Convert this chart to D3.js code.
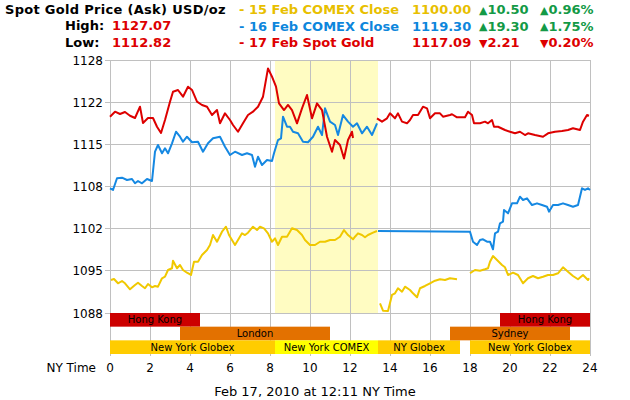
<!DOCTYPE html>
<html>
<head>
<meta charset="utf-8">
<script src="https://cdn.jsdelivr.net/npm/d3@7"></script>
<style>
  body { margin: 0; background: #fff; }
  svg { display: block; font-family: "DejaVu Sans", Verdana, sans-serif; }
</style>
</head>
<body>
<div id="chart"></div>
<script>
// hour of NY day, price in USD/oz (null = gap in the feed)
var spotGold = [
  [0,1119.44],[0.25,1120.23],[0.5,1119.86],[0.75,1120.18],[1,1119.59],[1.25,1119.23],[1.5,1121.02],
  [1.65,1118.44],[1.9,1119.23],[2.15,1119.23],[2.35,1117.85],[2.55,1116.86],[2.75,1118.91],[3,1121.81],
  [3.15,1123.39],[3.4,1123.66],[3.65,1122.6],[3.9,1124.18],[4.1,1123.66],[4.35,1121.81],[4.6,1121.29],
  [4.85,1121.02],[5.1,1119.7],[5.35,1120.49],[5.5,1118.39],[5.75,1119.97],[6,1118.91],[6.15,1118.12],
  [6.4,1117.06],[6.65,1118.39],[6.9,1119.7],[7.15,1120.23],[7.4,1121.02],[7.65,1122.6],[7.9,1127.07],
  [8.1,1125.76],[8.3,1124.18],[8.45,1121.55],[8.7,1120.49],[8.9,1121.29],[9.1,1120.49],[9.35,1118.39],
  [9.6,1120.76],[9.85,1122.87],[10.1,1119.18],[10.35,1121.55],[10.6,1120.49],[10.85,1116.27],[11.1,1113.9],
  [11.25,1115.75],[11.5,1114.96],[11.7,1112.82],[11.9,1115.75],[12.1,1117.06],[12.15,1116.07],
  null,
  [13.35,1119.18],[13.6,1118.65],[13.85,1119.18],[14,1119.97],[14.25,1119.18],[14.4,1119.97],[14.6,1118.65],
  [14.85,1118.39],[15,1118.91],[15.15,1119.7],[15.4,1119.7],[15.65,1121.02],[15.85,1120.76],[16,1119.18],
  [16.25,1119.97],[16.5,1119.97],[16.65,1119.44],[17,1119.7],[17.1,1119.82],[17.35,1119.34],[17.75,1119.34],
  [17.9,1120.23],[18.1,1119.7],[18.2,1118.39],[18.5,1118.39],[18.75,1118.65],[18.9,1118.39],[19.1,1118.91],
  [19.2,1117.85],[19.4,1117.85],[19.75,1117.33],[20,1117.06],[20.25,1116.81],[20.5,1117.06],[20.75,1116.54],
  [20.9,1116.81],[21.25,1116.54],[21.65,1116.27],[21.9,1116.81],[22.25,1117.06],[22.6,1117.17],[22.9,1117.33],
  [23.15,1117.6],[23.5,1117.33],[23.65,1118.65],[23.85,1119.7],[23.95,1119.59]
];

var comexFeb16 = [
  [0,1108.12],[0.15,1107.85],[0.35,1109.7],[0.6,1109.79],[0.85,1109.43],[1.1,1109.59],[1.25,1108.91],
  [1.4,1109.27],[1.6,1108.91],[1.85,1109.59],[2.1,1109.27],[2.25,1113.9],[2.4,1114.96],[2.6,1113.65],
  [2.75,1114.44],[2.9,1113.65],[3.1,1115.23],[3.3,1117.06],[3.5,1116.27],[3.65,1115.48],[3.85,1116.27],
  [4.1,1115.39],[4.4,1115.48],[4.65,1113.9],[4.9,1115.23],[5.15,1116.02],[5.5,1116.27],[5.75,1114.69],
  [6,1113.38],[6.25,1113.9],[6.6,1113.38],[6.85,1113.65],[7.1,1113.38],[7.25,1111.53],[7.4,1113.11],
  [7.6,1111.8],[7.85,1112.59],[8.1,1112.43],[8.2,1113.65],[8.4,1115.75],[8.55,1116.02],[8.65,1119.44],
  [8.85,1117.85],[9,1117.85],[9.15,1117.06],[9.4,1116.81],[9.65,1115.48],[9.9,1115.39],[10.15,1116.27],
  [10.4,1117.85],[10.6,1116.54],[10.75,1120.76],[11,1118.65],[11.25,1118.12],[11.4,1116.54],[11.65,1119.7],
  [11.9,1118.65],[12.15,1117.85],[12.35,1118.39],[12.6,1116.81],[12.85,1117.85],[13.1,1116.54],[13.35,1118.39],
  null,
  [13.4,1101.36],[18,1101.25],[18.15,1099.67],[18.35,1099.15],[18.5,1099.94],[18.65,1100.05],[18.85,1099.67],
  [19,1099.67],[19.15,1098.47],[19.25,1101],[19.4,1101.25],[19.5,1102.58],[19.65,1102.83],[19.7,1104.68],
  [19.9,1104.16],[20.1,1105.74],[20.35,1105.74],[20.5,1106.79],[20.65,1106.27],[20.85,1106.53],[21.1,1105.47],
  [21.35,1105.74],[21.6,1105.47],[21.85,1105.21],[21.95,1104.42],[22.15,1105.47],[22.4,1105.47],[22.65,1105.74],
  [22.9,1105.47],[23.15,1105.21],[23.4,1105.47],[23.6,1108.12],[23.75,1107.85],[23.9,1108.12],[24,1107.85]
];

var comexFeb15 = [
  [0.05,1093.62],[0.2,1093.78],[0.4,1093.1],[0.6,1093.46],[0.75,1093.1],[1,1092.15],[1.25,1092.83],
  [1.4,1093.19],[1.6,1092.67],[1.75,1092.31],[1.9,1092.99],[2.1,1092.46],[2.25,1092.67],[2.4,1092.56],
  [2.6,1093.89],[2.75,1094.14],[2.9,1095.2],[3.1,1095.47],[3.15,1096.67],[3.35,1095.47],[3.5,1095.99],
  [3.65,1095.2],[3.85,1094.77],[4.05,1094.41],[4.2,1096.51],[4.4,1096.51],[4.6,1097.57],[4.85,1098.36],
  [5,1099.15],[5.15,1100.73],[5.35,1099.67],[5.6,1101.25],[5.8,1102.04],[5.95,1100.73],[6.1,1099.94],
  [6.25,1099.15],[6.4,1099.94],[6.6,1101],[6.75,1100.73],[6.9,1101.1],[7.15,1102.04],[7.35,1101.52],
  [7.5,1102.04],[7.7,1101.79],[7.9,1101],[8.1,1099.67],[8.25,1100.21],[8.4,1099.15],[8.6,1100.46],
  [8.85,1100.46],[9.1,1101.79],[9.35,1101.52],[9.6,1100.73],[9.75,1099.94],[10,1099.15],[10.25,1099.15],
  [10.5,1099.67],[10.75,1099.67],[11,1099.94],[11.25,1099.94],[11.5,1100.46],[11.7,1101.52],[11.9,1100.73],
  [12.15,1100.05],[12.25,1100.46],[12.4,1101],[12.6,1100.73],[12.75,1100.37],[12.9,1100.73],[13.15,1101.1],
  [13.35,1101.36],
  null,
  [13.5,1089.93],[13.65,1088.76],[13.9,1088.72],[14.1,1091.25],[14.25,1091.51],[14.4,1092.31],[14.6,1091.77],
  [14.75,1092.56],[15,1092.04],[15.15,1091.51],[15.35,1090.88],[15.5,1092.31],[15.75,1092.67],[16,1093.1],
  [16.25,1093.51],[16.5,1093.73],[16.75,1093.62],[17,1093.89],[17.35,1093.73],
  null,
  [18,1094.68],[18.25,1095.2],[18.5,1095.09],[18.75,1095.31],[18.9,1095.47],[19,1096.51],[19.15,1097.41],
  [19.35,1096.78],[19.6,1095.99],[19.75,1095.63],[19.9,1094.41],[20.15,1094.77],[20.4,1094.41],[20.65,1093.1],
  [20.9,1093.89],[21.15,1094.25],[21.4,1093.89],[21.65,1094.14],[21.9,1094.41],[22.15,1094.41],[22.4,1094.68],
  [22.65,1095.63],[22.9,1094.93],[23.15,1094.25],[23.4,1093.73],[23.65,1094.41],[23.9,1093.62],[23.95,1093.89]
];

var hourTicks = [0, 2, 4, 6, 8, 10, 12, 14, 16, 18, 20, 22, 24];
var priceMin = 1088.4, priceMax = 1128.4, priceSteps = 6;
var comexHours = [8.25, 13.4];

var sessionNames = ['Hong Kong', 'London', 'New York Globex', 'New York COMEX', 'NY Globex', 'Sydney', 'Hong Kong', 'New York Globex'];
var sessionStart = [0, 3.5, 0, 8.25, 13.4, 17, 19.5, 18];
var sessionEnd = [4.5, 11, 8.25, 13.4, 17.5, 23, 24, 24];
var sessionKind = ['asia', 'europe', 'globex', 'comex', 'globex', 'europe', 'asia', 'globex'];

var legendLabels = ['15 Feb COMEX Close', '16 Feb COMEX Close', '17 Feb Spot Gold'];
var legendValues = ['1100.00', '1119.30', '1117.09'];
var legendChange = ['10.50', '19.30', '2.21'];
var legendPct = ['0.96%', '1.75%', '0.20%'];
var legendUp = [true, true, false];
var highLow = [['High:', '1127.07'], ['Low:', '1112.82']];

var W = 630, H = 400;
var svg = d3.select('#chart').append('svg').attr('width', W).attr('height', H);

var x = d3.scaleLinear().domain([0, 24]).range([110, 590]);
var y = d3.scaleLinear().domain([priceMin, priceMax]).range([313, 60]);
var rows = d3.scaleBand().domain(['asia', 'europe', 'globex']).range([313, 354]);
var kindRow = {asia: 'asia', europe: 'europe', globex: 'globex', comex: 'globex'};
var kindColor = {asia: '#cc0000', europe: '#e37100', globex: '#ffcc00', comex: '#ffff00'};

var lineColors = ['#f0c800', '#1588e2', '#dd0000'];
var textColors = ['#e8bf00', '#0d86dc', '#dd0000'];
var green = '#139a46';

var priceTicks = d3.range(priceSteps + 1).map(function(i) { return priceMin + i * (priceMax - priceMin) / priceSteps; });

// comex highlight band
svg.append('rect')
  .attr('x', x(comexHours[0])).attr('y', y(priceMax))
  .attr('width', x(comexHours[1]) - x(comexHours[0]))
  .attr('height', y(priceMin) - y(priceMax))
  .attr('fill', '#fffcc2');

// grid
svg.append('g').selectAll('line.h').data(priceTicks).enter().append('line')
  .attr('x1', 105).attr('x2', x(24))
  .attr('y1', function(d) { return y(d); }).attr('y2', function(d) { return y(d); })
  .attr('stroke', '#c0c0c0').attr('stroke-width', 1).attr('shape-rendering', 'crispEdges');
svg.append('g').selectAll('line.v').data(hourTicks).enter().append('line')
  .attr('x1', function(d) { return x(d); }).attr('x2', function(d) { return x(d); })
  .attr('y1', y(priceMax)).attr('y2', 356)
  .attr('stroke', '#c0c0c0').attr('stroke-width', 1).attr('shape-rendering', 'crispEdges');

// y labels
svg.append('g').selectAll('text').data(priceTicks).enter().append('text')
  .attr('x', 103).attr('y', function(d) { return y(d) + 4.5; })
  .attr('text-anchor', 'end').attr('font-size', 12).attr('fill', '#000')
  .text(d3.format('.0f'));

// x labels
svg.append('g').selectAll('text').data(hourTicks).enter().append('text')
  .attr('x', function(d) { return x(d); }).attr('y', 372)
  .attr('text-anchor', 'middle').attr('font-size', 12).attr('fill', '#000')
  .text(function(d) { return d; });
svg.append('text').attr('x', 96).attr('y', 372).attr('text-anchor', 'end')
  .attr('font-size', 12).text('NY Time');

// sessions
var sess = svg.append('g').selectAll('g').data(sessionNames).enter().append('g');
sess.append('rect')
  .attr('x', function(d, i) { return x(sessionStart[i]); })
  .attr('y', function(d, i) { return rows(kindRow[sessionKind[i]]); })
  .attr('width', function(d, i) { return x(sessionEnd[i]) - x(sessionStart[i]); })
  .attr('height', rows.bandwidth())
  .attr('fill', function(d, i) { return kindColor[sessionKind[i]]; });
sess.append('text')
  .attr('x', function(d, i) { return (x(sessionStart[i]) + x(sessionEnd[i])) / 2; })
  .attr('y', function(d, i) { return rows(kindRow[sessionKind[i]]) + rows.bandwidth() / 2 + 3.5; })
  .attr('text-anchor', 'middle').attr('font-size', 10).attr('fill', '#000')
  .text(function(d) { return d; });

// price lines
var line = d3.line()
  .defined(function(d) { return d !== null; })
  .x(function(d) { return x(d[0]); })
  .y(function(d) { return y(d[1]); });
[comexFeb15, comexFeb16, spotGold].forEach(function(s, i) {
  svg.append('path').datum(s)
    .attr('d', line)
    .attr('fill', 'none')
    .attr('stroke', lineColors[i])
    .attr('stroke-width', 2)
    .attr('stroke-linejoin', 'round');
});

// header
var head = svg.append('g').attr('font-size', 13).attr('font-weight', 'bold');
head.append('text').attr('x', 5).attr('y', 14).attr('fill', '#000')
  .attr('letter-spacing', 0.3).text('Spot Gold Price (Ask) USD/oz');
highLow.forEach(function(r, i) {
  head.append('text').attr('x', 65).attr('y', 30 + i * 16.5).attr('fill', '#000').text(r[0]);
  head.append('text').attr('x', 112).attr('y', 30 + i * 16.5).attr('fill', '#dd0000').text(r[1]);
});
legendLabels.forEach(function(lab, i) {
  var yy = 14 + i * 16.5;
  var c = legendUp[i] ? green : '#dd0000';
  var tri = legendUp[i] ? '\u25B2' : '\u25BC';
  head.append('text').attr('x', 239).attr('y', yy).attr('fill', textColors[i]).text('- ' + lab);
  head.append('text').attr('x', 412).attr('y', yy).attr('fill', textColors[i]).text(legendValues[i]);
  var t1 = head.append('text').attr('x', 479).attr('y', yy).attr('fill', c);
  t1.append('tspan').attr('font-size', 11).attr('dy', -0.5).text(tri);
  t1.append('tspan').attr('dy', 0.5).text(legendChange[i]);
  var t2 = head.append('text').attr('x', 540).attr('y', yy).attr('fill', c);
  t2.append('tspan').attr('font-size', 11).attr('dy', -0.5).text(tri);
  t2.append('tspan').attr('dy', 0.5).text(legendPct[i]);
});

// footer
svg.append('text').attr('x', 315).attr('y', 396).attr('text-anchor', 'middle')
  .attr('font-size', 13).attr('fill', '#000').text('Feb 17, 2010 at 12:11 NY Time');
</script>
</body>
</html>
